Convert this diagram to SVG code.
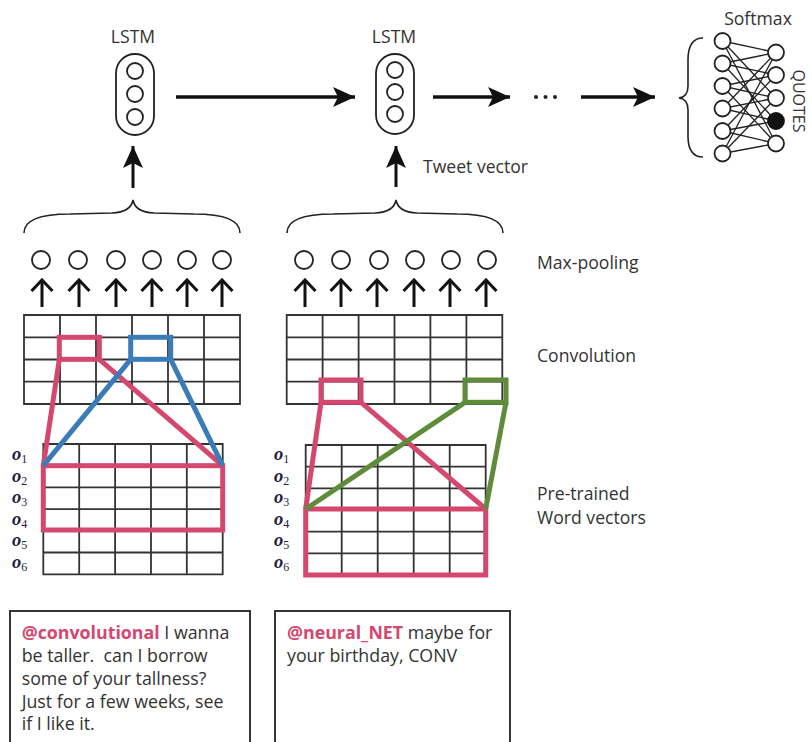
<svg xmlns="http://www.w3.org/2000/svg" width="812" height="742" viewBox="0 0 812 742">
<style>
.t{font-family:"Open Sans","Noto Sans","DejaVu Sans",sans-serif;font-size:17.6px;fill:#333}
.q{font-family:"Open Sans","Noto Sans","DejaVu Sans",sans-serif;font-size:16px;fill:#333}
.tw{font-family:"Open Sans","Noto Sans","DejaVu Sans",sans-serif;font-size:17.8px;fill:#333}
.h{fill:#d4476e;font-weight:bold}
.o{font-family:"Liberation Serif","DejaVu Serif",serif;font-size:18.5px;font-style:italic;font-weight:bold;fill:#1f2340}
.o tspan{font-size:12px;font-style:normal;font-weight:normal}
.ln{fill:none;stroke:#222;stroke-width:1.8}
.cir{fill:#fff;stroke:#222;stroke-width:1.8}
.big{fill:none;stroke:#111;stroke-width:3.5}
.sm{fill:none;stroke:#111;stroke-width:3}
.grid{fill:none;stroke:#333;stroke-width:1.8}
.pk{fill:none;stroke:#d4476e;stroke-width:5}
.bl{fill:none;stroke:#3a7cb8;stroke-width:5}
.gr{fill:none;stroke:#5e8c3a;stroke-width:5}
.br{fill:none;stroke:#222;stroke-width:1.6}
.net{stroke:#222;stroke-width:1.3}
</style>
<defs>
<marker id="ah" viewBox="0 0 22 20" refX="22" refY="10" markerWidth="22" markerHeight="20" markerUnits="userSpaceOnUse" orient="auto">
<path d="M0,0 L22,10 L0,20 L5,10 z" fill="#111"/>
</marker>
<marker id="chev" viewBox="0 0 14 24" refX="12" refY="12" markerWidth="14" markerHeight="24" markerUnits="userSpaceOnUse" orient="auto">
<path d="M1,1.5 L12,12 L1,22.5" fill="none" stroke="#111" stroke-width="3"/>
</marker>
</defs>
<rect width="812" height="742" fill="#fff"/>

<g id="lstm1">
<text class="t" x="133" y="43" text-anchor="middle">LSTM</text>
<rect class="ln" x="116" y="54" width="38" height="81" rx="19"/>
<circle class="cir" cx="135" cy="71" r="8"/>
<circle class="cir" cx="135" cy="94" r="8"/>
<circle class="cir" cx="135" cy="117" r="8"/>
</g>
<g id="lstm2">
<text class="t" x="394" y="43" text-anchor="middle">LSTM</text>
<rect class="ln" x="376" y="54" width="38" height="80" rx="19"/>
<circle class="cir" cx="395" cy="70" r="8"/>
<circle class="cir" cx="395" cy="92" r="8"/>
<circle class="cir" cx="395" cy="114" r="8"/>
</g>
<g id="dots">
<circle cx="536" cy="97" r="2" fill="#222"/>
<circle cx="545.5" cy="97" r="2" fill="#222"/>
<circle cx="555" cy="97" r="2" fill="#222"/>
</g>
<g id="softmax">
<text class="t" x="758" y="25" text-anchor="middle">Softmax</text>
<path class="br" d="M703,38 Q688,38 688,60 L688,86 Q688,97 679,98 Q688,99 688,110 L688,136 Q688,157 703,157"/>
<g class="net">
<line x1="722.5" y1="41" x2="776" y2="52.5"/><line x1="722.5" y1="41" x2="776" y2="98"/><line x1="722.5" y1="41" x2="776" y2="143.5"/>
<line x1="722.5" y1="63.5" x2="776" y2="52.5"/><line x1="722.5" y1="63.5" x2="776" y2="75"/><line x1="722.5" y1="63.5" x2="776" y2="121"/>
<line x1="722.5" y1="86" x2="776" y2="75"/><line x1="722.5" y1="86" x2="776" y2="98"/><line x1="722.5" y1="86" x2="776" y2="143.5"/>
<line x1="722.5" y1="108.5" x2="776" y2="52.5"/><line x1="722.5" y1="108.5" x2="776" y2="98"/><line x1="722.5" y1="108.5" x2="776" y2="121"/>
<line x1="722.5" y1="131" x2="776" y2="75"/><line x1="722.5" y1="131" x2="776" y2="121"/><line x1="722.5" y1="131" x2="776" y2="143.5"/>
<line x1="722.5" y1="153.5" x2="776" y2="52.5"/><line x1="722.5" y1="153.5" x2="776" y2="98"/><line x1="722.5" y1="153.5" x2="776" y2="143.5"/>
</g>
<circle class="cir" cx="722.5" cy="41" r="8"/>
<circle class="cir" cx="722.5" cy="63.5" r="8"/>
<circle class="cir" cx="722.5" cy="86" r="8"/>
<circle class="cir" cx="722.5" cy="108.5" r="8"/>
<circle class="cir" cx="722.5" cy="131" r="8"/>
<circle class="cir" cx="722.5" cy="153.5" r="8"/>
<circle class="cir" cx="776" cy="52.5" r="8"/>
<circle class="cir" cx="776" cy="75" r="8"/>
<circle class="cir" cx="776" cy="98" r="8"/>
<circle cx="776" cy="121" r="8" fill="#111" stroke="#111" stroke-width="1.8"/>
<circle class="cir" cx="776" cy="143.5" r="8"/>
<text class="q" transform="translate(793,101) rotate(90)" text-anchor="middle">QUOTES</text>
</g>

<g id="connectors">
<line class="big" x1="176" y1="97" x2="355" y2="97" marker-end="url(#ah)"/>
<line class="big" x1="433" y1="97" x2="510" y2="97" marker-end="url(#ah)"/>
<line class="big" x1="581" y1="97" x2="655" y2="97" marker-end="url(#ah)"/>
<line class="sm" x1="133" y1="188" x2="133" y2="146" marker-end="url(#ah)"/>
<line class="sm" x1="396" y1="187" x2="396" y2="146" marker-end="url(#ah)"/>
<path class="br" d="M24,233 Q24,214 70,214 L112,213 Q131,212 133,200 Q135,212 154,213 L194,214 Q240,214 240,233"/>
<path class="br" d="M287,233 Q287,214 333,214 L375,213 Q394,212 396,200 Q398,212 417,213 L457,214 Q503,214 503,233"/>
<g class="sm">
<line x1="42" y1="307" x2="42" y2="280" marker-end="url(#chev)"/>
<line x1="79" y1="307" x2="79" y2="280" marker-end="url(#chev)"/>
<line x1="116" y1="307" x2="116" y2="280" marker-end="url(#chev)"/>
<line x1="152" y1="307" x2="152" y2="280" marker-end="url(#chev)"/>
<line x1="187" y1="307" x2="187" y2="280" marker-end="url(#chev)"/>
<line x1="222" y1="307" x2="222" y2="280" marker-end="url(#chev)"/>
<line x1="305" y1="307" x2="305" y2="280" marker-end="url(#chev)"/>
<line x1="341" y1="307" x2="341" y2="280" marker-end="url(#chev)"/>
<line x1="377" y1="307" x2="377" y2="280" marker-end="url(#chev)"/>
<line x1="414" y1="307" x2="414" y2="280" marker-end="url(#chev)"/>
<line x1="450" y1="307" x2="450" y2="280" marker-end="url(#chev)"/>
<line x1="486" y1="307" x2="486" y2="280" marker-end="url(#chev)"/>
</g>
</g>
<text class="t" x="423" y="173">Tweet vector</text>

<g id="pool1">
<circle class="cir" cx="41" cy="260" r="9"/><circle class="cir" cx="78" cy="260" r="9"/><circle class="cir" cx="116" cy="260" r="9"/>
<circle class="cir" cx="152" cy="260" r="9"/><circle class="cir" cx="187" cy="260" r="9"/><circle class="cir" cx="222" cy="260" r="9"/>
</g>
<g id="pool2">
<circle class="cir" cx="304" cy="260" r="9"/><circle class="cir" cx="341" cy="260" r="9"/><circle class="cir" cx="379" cy="260" r="9"/>
<circle class="cir" cx="415" cy="260" r="9"/><circle class="cir" cx="451" cy="260" r="9"/><circle class="cir" cx="487" cy="260" r="9"/>
</g>

<g id="conv1">
<path class="grid" d="M24,315 H240 V404 H24 Z M24,337.3 H240 M24,359.5 H240 M24,381.7 H240 M60,315 V404 M96,315 V404 M132,315 V404 M168,315 V404 M204,315 V404"/>
</g>
<g id="words1">
<path class="grid" d="M43.3,444 H222.7 V574.3 H43.3 Z M43.3,465.7 H222.7 M43.3,487.4 H222.7 M43.3,509.1 H222.7 M43.3,530.8 H222.7 M43.3,552.5 H222.7 M79.2,444 V574.3 M115.1,444 V574.3 M151,444 V574.3 M186.8,444 V574.3"/>
<text class="o" x="12" y="460">o<tspan dy="2.5">1</tspan></text>
<text class="o" x="12" y="482">o<tspan dy="2.5">2</tspan></text>
<text class="o" x="12" y="503">o<tspan dy="2.5">3</tspan></text>
<text class="o" x="12" y="525">o<tspan dy="2.5">4</tspan></text>
<text class="o" x="12" y="546">o<tspan dy="2.5">5</tspan></text>
<text class="o" x="12" y="568">o<tspan dy="2.5">6</tspan></text>
</g>
<g id="filters1">
<rect class="pk" x="59.3" y="337.3" width="40" height="22"/>
<rect class="pk" x="43.3" y="465.7" width="179.4" height="64.3"/>
<line class="pk" x1="59.3" y1="359.3" x2="43.3" y2="465.7"/>
<line class="pk" x1="99.3" y1="359.3" x2="222.7" y2="465.7"/>
<rect class="bl" x="130.7" y="337.3" width="40" height="22"/>
<line class="bl" x1="130.7" y1="359.3" x2="43.3" y2="465.7"/>
<line class="bl" x1="170.7" y1="359.3" x2="222.7" y2="465.7"/>
</g>

<g id="conv2">
<path class="grid" d="M286.7,315 H502.3 V404 H286.7 Z M286.7,337.3 H502.3 M286.7,359.5 H502.3 M286.7,381.7 H502.3 M322.6,315 V404 M358.6,315 V404 M394.5,315 V404 M430.4,315 V404 M466.4,315 V404"/>
</g>
<g id="words2">
<path class="grid" d="M305.7,445 H485.7 V575 H305.7 Z M305.7,466.7 H485.7 M305.7,488.3 H485.7 M305.7,510 H485.7 M305.7,531.7 H485.7 M305.7,553.3 H485.7 M341.7,445 V575 M377.7,445 V575 M413.7,445 V575 M449.7,445 V575"/>
<text class="o" x="274" y="460">o<tspan dy="2.5">1</tspan></text>
<text class="o" x="274" y="482">o<tspan dy="2.5">2</tspan></text>
<text class="o" x="274" y="503">o<tspan dy="2.5">3</tspan></text>
<text class="o" x="274" y="525">o<tspan dy="2.5">4</tspan></text>
<text class="o" x="274" y="546">o<tspan dy="2.5">5</tspan></text>
<text class="o" x="274" y="568">o<tspan dy="2.5">6</tspan></text>
</g>
<g id="filters2">
<rect class="pk" x="321" y="380" width="40" height="22.3"/>
<rect class="pk" x="305.7" y="509" width="180" height="66"/>
<line class="pk" x1="321" y1="402.3" x2="305.7" y2="509"/>
<line class="pk" x1="361" y1="402.3" x2="485.7" y2="509"/>
<rect class="gr" x="465" y="380" width="41" height="22.3"/>
<line class="gr" x1="465" y1="402.3" x2="305.7" y2="509"/>
<line class="gr" x1="506" y1="402.3" x2="485.7" y2="509"/>
</g>

<g id="labels">
<text class="t" x="537" y="269">Max-pooling</text>
<text class="t" x="537" y="362">Convolution</text>
<text class="t" x="537" y="500">Pre-trained</text>
<text class="t" x="537" y="524">Word vectors</text>
</g>

<g id="tweet1">
<rect class="ln" x="10" y="611" width="240" height="150"/>
<text class="tw" x="21.7" y="639"><tspan class="h">@convolutional</tspan> I wanna</text>
<text class="tw" x="21.7" y="662">be taller.&#160; can I borrow</text>
<text class="tw" x="21.7" y="685">some of your tallness?</text>
<text class="tw" x="21.7" y="708">Just for a few weeks, see</text>
<text class="tw" x="21.7" y="730">if I like it.</text>
</g>
<g id="tweet2">
<rect class="ln" x="275" y="611" width="235" height="150"/>
<text class="tw" x="287" y="639"><tspan class="h">@neural_NET</tspan> maybe for</text>
<text class="tw" x="287" y="662">your birthday, CONV</text>
</g>
</svg>
